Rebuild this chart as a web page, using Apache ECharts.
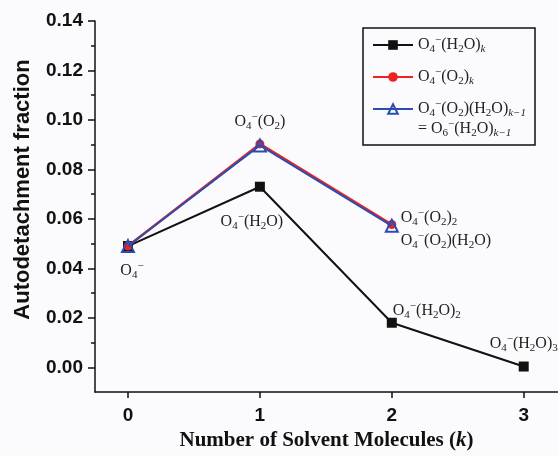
<!DOCTYPE html>
<html>
<head>
<meta charset="utf-8">
<script src="https://cdn.jsdelivr.net/npm/echarts@6/dist/echarts.min.js"></script>
<style>
  html, body { margin: 0; padding: 0; background: #fbfbfd; }
  #chart { width: 558px; height: 456px; }
</style>
</head>
<body>
<div id="chart"></div>
<script>
// 数据
const kValues = [0, 1, 2, 3];
const waterSeries = [0.049, 0.073, 0.018, 0.0003];
const oxygenSeries = [0.049, 0.0903, 0.0577];
const mixedSeries = [0.049, 0.0897, 0.0572];
const xTicks = [0, 1, 2, 3];
const yMajorTicks = [0, 0.02, 0.04, 0.06, 0.08, 0.10, 0.12, 0.14];
const yMinorTicks = [0.01, 0.03, 0.05, 0.07, 0.09, 0.11, 0.13];
const seriesNames = ["O4-(H2O)k", "O4-(O2)k", "O4-(O2)(H2O)k-1"];
const legendTexts = [
    "O_4^-(H_2O)%{k}",
    "O_4^-(O_2)%{k}",
    "\nO_4^-(O_2)(H_2O)%{k−1}\n= O_6^-(H_2O)%{k−1}"
];
const waterLabels = ["O_4^-", "O_4^-(H_2O)", "O_4^-(H_2O)_2", "O_4^-(H_2O)_3"];
const oxygenLabels = ["", "O_4^-(O_2)", "O_4^-(O_2)_2"];
const mixedLabels = ["", "", "O_4^-(O_2)(H_2O)"];

// 标签位置 (样式, 不是数据)
const waterLabelPos = [
    { align: "center", offset: [4, 25] },
    { align: "center", offset: [-8, 35] },
    { align: "left", offset: [1, -12] },
    { align: "left", offset: [-34, -23] }
];
const oxygenLabelPos = [null, { align: "center", offset: [0, -22] }, { align: "left", offset: [9, -7] }];
const mixedLabelPos = [null, null, { align: "left", offset: [9, 15] }];

const serif = "Liberation Serif";
const txtColor = "#222";
const rich = {
    n: { fontFamily: serif, fontSize: 16, lineHeight: 20, color: txtColor },
    s: { fontFamily: serif, fontSize: 11, lineHeight: 11, verticalAlign: "bottom", color: txtColor },
    p: { fontFamily: serif, fontSize: 11, lineHeight: 11, verticalAlign: "top", color: txtColor },
    i: { fontFamily: serif, fontSize: 11, lineHeight: 11, verticalAlign: "bottom", fontStyle: "italic", color: txtColor }
};

// 把 O_4^-(H_2O) 这种写法转成富文本
function chem(str) {
    let out = "", buf = "";
    const flush = function () { if (buf) { out += "{n|" + buf + "}"; buf = ""; } };
    for (let i = 0; i < str.length; i++) {
        const c = str[i];
        if (c === "_" || c === "^" || c === "%") {
            flush();
            let t;
            if (str[i + 1] === "{") {
                const j = str.indexOf("}", i);
                t = str.slice(i + 2, j);
                i = j;
            } else {
                t = str[i + 1];
                i++;
            }
            const key = c === "_" ? "s" : (c === "^" ? "p" : "i");
            out += "{" + key + "|" + t.replace("-", "−") + "}";
        } else if (c === "\n") {
            flush();
            out += "\n";
        } else {
            buf += c;
        }
    }
    flush();
    return out;
}

function buildData(values, labels, pos) {
    return values.map(function (v, i) {
        const item = { value: [kValues[i], v] };
        if (labels[i]) {
            item.label = {
                show: true,
                position: "inside",
                align: pos[i].align,
                verticalAlign: "middle",
                offset: pos[i].offset,
                formatter: chem(labels[i]),
                rich: rich
            };
        }
        return item;
    });
}

(function () {
    let myChart = echarts.init(document.getElementById("chart"));
    const axisColor = "#111";
    let option = {
        backgroundColor: "#fbfbfd",
        animation: false,
        grid: { left: 95, top: 21, right: 0, bottom: 60 },
        legend: [0, 1, 2].map(function (i) {
            return {
                data: [seriesNames[i]],
                orient: "vertical",
                left: 372,
                top: [35, 67, 79][i],
                padding: 0,
                itemWidth: 40,
                itemHeight: 12,
                formatter: function () { return chem(legendTexts[i]); },
                textStyle: { fontFamily: serif, fontSize: 16, lineHeight: 20, color: txtColor, rich: rich },
                selectedMode: false
            };
        }),
        graphic: [{
            type: "rect",
            shape: { x: 363, y: 28, width: 172, height: 117 },
            style: { fill: "none", stroke: "#111", lineWidth: 1.5 },
            z: 1
        }],
        xAxis: {
            type: "value",
            min: -0.25,
            max: 3.26,
            name: "Number of Solvent Molecules ({it|k})",
            nameLocation: "middle",
            nameGap: 38,
            nameTextStyle: {
                fontFamily: serif, fontWeight: "bold", fontSize: 21, color: axisColor,
                rich: { it: { fontFamily: serif, fontWeight: "bold", fontStyle: "italic", fontSize: 21, color: axisColor } }
            },
            axisLine: { onZero: false, lineStyle: { color: axisColor, width: 1.5 } },
            axisTick: { customValues: xTicks, length: 6, lineStyle: { color: axisColor, width: 1.5 } },
            axisLabel: {
                customValues: xTicks,
                margin: 14,
                fontFamily: "Liberation Sans", fontWeight: "bold", fontSize: 19, color: axisColor
            },
            splitLine: { show: false }
        },
        yAxis: [
            {
                type: "value",
                min: -0.01,
                max: 0.14,
                name: "Autodetachment fraction",
                nameLocation: "middle",
                nameGap: 61,
                nameTextStyle: {
                    fontFamily: "Liberation Sans", fontWeight: "bold", fontSize: 22, color: axisColor,
                    padding: [0, 0, 0, 34]
                },
                axisLine: { show: true, onZero: false, lineStyle: { color: axisColor, width: 1.5 } },
                axisTick: { customValues: yMajorTicks, length: 7, lineStyle: { color: axisColor, width: 1.5 } },
                axisLabel: {
                    customValues: yMajorTicks,
                    margin: 12,
                    formatter: function (v) { return v.toFixed(2); },
                    fontFamily: "Liberation Sans", fontWeight: "bold", fontSize: 19, color: axisColor
                },
                splitLine: { show: false }
            },
            {
                // 次刻度
                type: "value",
                min: -0.01,
                max: 0.14,
                position: "left",
                axisLine: { show: false, onZero: false },
                axisTick: { show: true, customValues: yMinorTicks, length: 4, lineStyle: { color: axisColor, width: 1.5 } },
                axisLabel: { show: false },
                splitLine: { show: false }
            }
        ],
        series: [
            {
                name: seriesNames[0],
                type: "line",
                data: buildData(waterSeries, waterLabels, waterLabelPos),
                symbol: "rect",
                symbolSize: 10,
                itemStyle: { color: "#111" },
                lineStyle: { color: "#111", width: 2 },
                z: 3
            },
            {
                name: seriesNames[1],
                type: "line",
                data: buildData(oxygenSeries, oxygenLabels, oxygenLabelPos),
                symbol: "circle",
                symbolSize: 9,
                itemStyle: { color: "#ee2222" },
                lineStyle: { color: "#ee2222", width: 2.5 },
                z: 4
            },
            {
                name: seriesNames[2],
                type: "line",
                data: buildData(mixedSeries, mixedLabels, mixedLabelPos),
                symbol: "triangle",
                symbolSize: 12,
                itemStyle: { color: "rgba(255,255,255,0)", borderColor: "#2a4db0", borderWidth: 2 },
                lineStyle: { color: "#2a4db0", width: 2 },
                z: 5
            }
        ]
    };
    myChart.setOption(option);
    window.addEventListener("resize", function () {
        myChart.resize();
    });
})();
</script>
</body>
</html>
